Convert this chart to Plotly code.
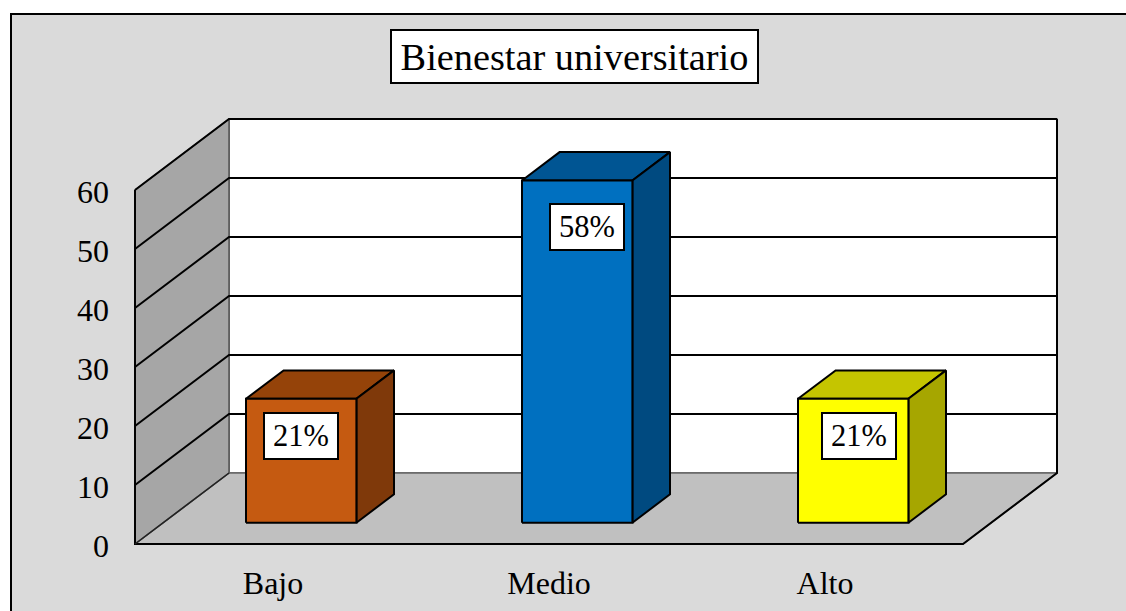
import plotly.graph_objects as go

categories = ["Bajo", "Medio", "Alto"]
values = [21, 58, 21]
value_labels = ["21%", "58%", "21%"]
front_colors = ["#c55a11", "#0070c0", "#ffff00"]
top_colors = ["#954309", "#005593", "#c5c500"]
side_colors = ["#7f390a", "#004a80", "#a6a600"]
y_ticks = [0, 10, 20, 30, 40, 50, 60]
title_text = "Bienestar universitario"

# Oblique projection of the 3D look, expressed in axis units
X_UNIT = 276
Y_UNIT = 5.9
DX = 94 / X_UNIT
DY = 71 / Y_UNIT
BAR_W = 0.40
D0, D1 = 0.30, 0.70
YMAX = max(y_ticks)
XMAX = len(categories)
FONT = "Liberation Serif"
PAD = 4
LABEL_XSHIFT = [0, 10, 6]
LABEL_YSHIFT = [-37, -46.5, -37]


def proj(c, v, d=0.0):
    return c + d * DX, v + d * DY


def poly(points, fill=None, line="black", width=2):
    pts = [proj(*p) for p in points]
    xs = [p[0] for p in pts]
    ys = [p[1] for p in pts]
    return go.Scatter(
        x=xs, y=ys, mode="lines" if line else "none",
        fill="toself" if fill else None, fillcolor=fill,
        line=dict(color=line or "rgba(0,0,0,0)", width=width),
        hoverinfo="skip", showlegend=False, cliponaxis=False,
    )


fig = go.Figure()

# back wall, floor, side wall
fig.add_trace(poly([(0, 0, 1), (XMAX, 0, 1), (XMAX, YMAX, 1), (0, YMAX, 1), (0, 0, 1)], fill="#ffffff", line="#555555", width=1.5))
fig.add_trace(poly([(0, 0, 0), (XMAX, 0, 0), (XMAX, 0, 1), (0, 0, 1), (0, 0, 0)], fill="#c0c0c0", line="#666666", width=1.5))
fig.add_trace(poly([(0, 0, 0), (0, 0, 1), (0, YMAX, 1), (0, YMAX, 0), (0, 0, 0)], fill="#a6a6a6", line="#555555", width=1.5))

# gridlines across side wall and back wall
for v in y_ticks[1:]:
    fig.add_trace(poly([(0, v, 0), (0, v, 1), (XMAX, v, 1)]))

# strong outer edges
fig.add_trace(poly([(0, YMAX, 0), (0, 0, 0), (XMAX, 0, 0), (XMAX, 0, 1), (XMAX, YMAX, 1)]))
fig.add_trace(poly([(0, 0, 0), (0, 0, 1)], line="#222222", width=1.5))
fig.add_trace(poly([(XMAX, YMAX, 1), (0, YMAX, 1)]))

# bars
for i, v in enumerate(values):
    a = i + 0.5 - BAR_W / 2
    b = i + 0.5 + BAR_W / 2
    fig.add_trace(poly([(a, v, D0), (b, v, D0), (b, v, D1), (a, v, D1), (a, v, D0)], fill=top_colors[i]))
    fig.add_trace(poly([(b, 0, D0), (b, 0, D1), (b, v, D1), (b, v, D0), (b, 0, D0)], fill=side_colors[i]))
    fig.add_trace(poly([(a, 0, D0), (b, 0, D0), (b, v, D0), (a, v, D0), (a, 0, D0)], fill=front_colors[i]))
    cx, cy = proj(i + 0.5, v, D0)
    fig.add_annotation(
        x=cx, y=cy, xshift=LABEL_XSHIFT[i], yshift=LABEL_YSHIFT[i], text=value_labels[i], showarrow=False,
        xanchor="center", yanchor="middle",
        font=dict(family=FONT, size=30.5, color="black"),
        bgcolor="white", bordercolor="black", borderwidth=2, borderpad=0,
        width=72, height=44, align="center", valign="middle",
    )

L, R, T, B = 135 - PAD, 69 - PAD, 119 - PAD, 67 - PAD
W, H = 1126, 611
PW, PH = W - L - R, H - T - B


def px(x):
    return (x - L) / PW


def py(y):
    return (H - B - y) / PH


fig.add_shape(
    type="rect", xref="paper", yref="paper", layer="below",
    x0=px(11), x1=px(W + 10), y0=py(H + 10), y1=py(14),
    fillcolor="#dadada", line=dict(color="black", width=2),
)

fig.add_annotation(
    xref="paper", yref="paper", x=px(574.5), y=py(56.5), text=title_text, showarrow=False,
    xanchor="center", yanchor="middle",
    font=dict(family=FONT, size=38.3, color="black"),
    bgcolor="white", bordercolor="black", borderwidth=2, borderpad=0,
    width=365, height=51, align="center", valign="middle",
)

fig.update_layout(
    width=W, height=H, autosize=False,
    margin=dict(l=L, r=R, t=T, b=B, pad=0),
    paper_bgcolor="white", plot_bgcolor="rgba(0,0,0,0)",
    showlegend=False, hovermode=False,
    font=dict(family=FONT, size=30, color="black"),
    xaxis=dict(
        range=[-PAD / X_UNIT, XMAX + DX + PAD / X_UNIT],
        tickvals=[i + 0.5 for i in range(len(categories))], ticktext=categories,
        showgrid=False, zeroline=False, showline=False, ticks="", ticklabelstandoff=13, automargin=False,
        tickfont=dict(family=FONT, size=32, color="black"), fixedrange=True,
    ),
    yaxis=dict(
        range=[-PAD / Y_UNIT, YMAX + DY + PAD / Y_UNIT], tickvals=y_ticks,
        showgrid=False, zeroline=False, showline=False, ticks="",
        ticklabelstandoff=21, ticklabelshift=2, automargin=False,
        tickfont=dict(family=FONT, size=32, color="black"), fixedrange=True,
    ),
)

fig.write_html(
    "out.html",
    config=dict(displayModeBar=False),
    post_script="document.body.style.margin='0';document.documentElement.style.overflow='hidden';",
)
